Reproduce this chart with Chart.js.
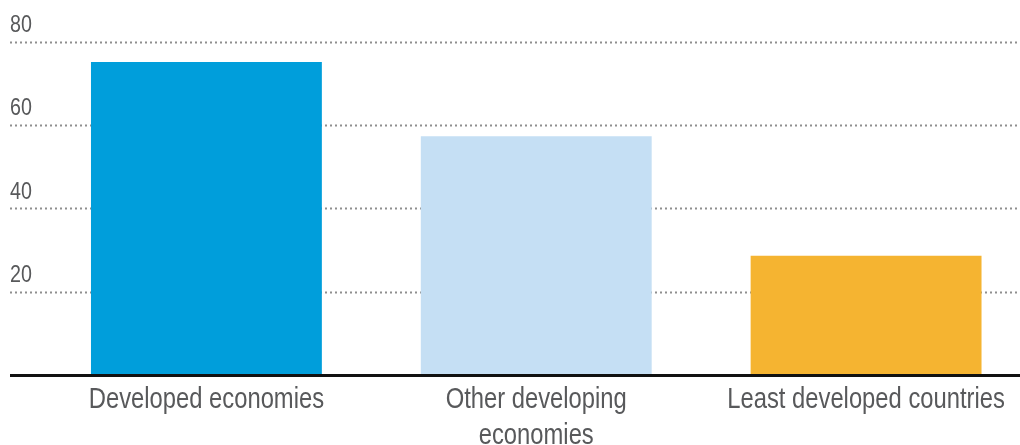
<!DOCTYPE html>
<html>
<head>
<meta charset="utf-8">
<script src="https://cdn.jsdelivr.net/npm/chart.js@4/dist/chart.umd.min.js"></script>
<style>
html,body{margin:0;padding:0;background:#fff;overflow:hidden}
#wrap{position:absolute;left:0;top:0;width:1040px;height:445px}
</style>
</head>
<body>
<div id="wrap"><canvas id="groupChart"></canvas></div>
<script>

const groups=["Developed economies",["Other developing","economies"],"Least developed countries"]
const shares=[75.1,57.3,28.6]
const barColors=["#009edb","#c5dff4","#f5b431"]
const yTicks=[20,40,60,80]

const textGrey="#58595b"
const fontFamily="'Liberation Sans',Arial,sans-serif"
// narrow look: regular face squeezed horizontally
const squeeze=0.82

function narrowText(ctx,text,x,y,align){
ctx.save()
ctx.translate(x,y)
ctx.scale(squeeze,1)
ctx.textAlign=align
ctx.fillText(text,0,0)
ctx.restore()
}

// dotted guide lines across the whole width, the solid zero line and the labels
const guides={
id:"guides",
beforeDatasetsDraw(chart){
const y=chart.scales.y
const ctx=chart.ctx
ctx.save()
ctx.strokeStyle="#8f8f8f"
ctx.lineWidth=2
ctx.setLineDash([2,3])
yTicks.forEach(v=>{
const py=Math.round(y.getPixelForValue(v))+0.5
ctx.beginPath()
ctx.moveTo(10,py)
ctx.lineTo(chart.width,py)
ctx.stroke()
})
ctx.restore()
},
afterDatasetsDraw(chart){
const x=chart.scales.x
const y=chart.scales.y
const ctx=chart.ctx
const py=y.getPixelForValue(0)+0.5
ctx.save()
ctx.strokeStyle="#111"
ctx.lineWidth=3
ctx.beginPath()
ctx.moveTo(10,py)
ctx.lineTo(chart.width,py)
ctx.stroke()

ctx.fillStyle=textGrey
ctx.textBaseline="alphabetic"

ctx.font="24px "+fontFamily
yTicks.forEach(v=>{
narrowText(ctx,String(v),10,y.getPixelForValue(v)-9.5,"left")
})

ctx.font="29px "+fontFamily
groups.forEach((g,i)=>{
const lines=Array.isArray(g)?g:[g]
const cx=x.getPixelForValue(i)
lines.forEach((line,k)=>{
narrowText(ctx,line,cx,py+32+k*36.5,"center")
})
})
ctx.restore()
}
}

new Chart(
document.getElementById("groupChart"),
{
type:"bar",
data:{
labels:groups,
datasets:[{
data:shares,
backgroundColor:barColors,
borderWidth:0,
barPercentage:0.7,
categoryPercentage:1
}]
},
options:{
responsive:true,
maintainAspectRatio:false,
animation:false,
layout:{padding:{left:41.5,right:9,top:41.5,bottom:0}},
plugins:{legend:{display:false},tooltip:{enabled:false}},
scales:{
x:{
grid:{display:false,drawTicks:false},
border:{display:false},
ticks:{display:false},
afterFit(scale){scale.height=70}
},
y:{
min:0,
max:80,
grid:{display:false,drawTicks:false},
border:{display:false},
ticks:{display:false},
afterFit(scale){scale.width=0}
}
}
},
plugins:[guides]
})

</script>
</body>
</html>
